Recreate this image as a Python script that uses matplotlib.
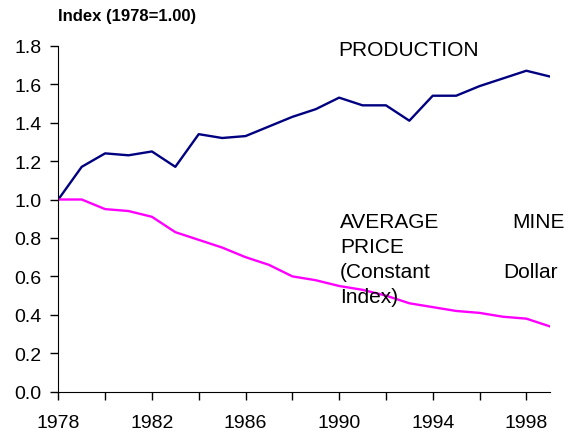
import matplotlib
matplotlib.use("Agg")
import matplotlib.pyplot as plt
from matplotlib.ticker import MultipleLocator, FuncFormatter

plt.rcParams["font.family"] = ["Liberation Sans", "DejaVu Sans"]

years = list(range(1978, 2000))
production = [1.00, 1.17, 1.24, 1.23, 1.25, 1.17, 1.34, 1.32, 1.33, 1.38, 1.43,
              1.47, 1.53, 1.49, 1.49, 1.41, 1.54, 1.54, 1.59, 1.63, 1.67, 1.64]
price = [1.00, 1.00, 0.95, 0.94, 0.91, 0.83, 0.79, 0.75, 0.70, 0.66, 0.60,
         0.58, 0.55, 0.53, 0.50, 0.46, 0.44, 0.42, 0.41, 0.39, 0.38, 0.34]

fig = plt.figure(figsize=(5.83, 4.39), dpi=100)
ax = fig.add_axes([0.1, 0.1055, 0.843, 0.788])

ax.plot(years, production, color="#000080", lw=1.7)
ax.plot(years, price, color="#FF00FF", lw=1.7)

ax.set_xlim(1978, 1999)
ax.set_ylim(0, 1.8)
ax.yaxis.set_major_locator(MultipleLocator(0.2))
ax.yaxis.set_major_formatter(FuncFormatter(lambda v, p: f"{v:.1f}"))
ax.xaxis.set_major_locator(MultipleLocator(2))
ax.xaxis.set_major_formatter(
    FuncFormatter(lambda v, p: f"{int(round(v))}" if int(round(v) - 1978) % 4 == 0 else ""))

for s in ["top", "right"]:
    ax.spines[s].set_visible(False)
ax.tick_params(axis="both", direction="out", length=6, width=1, labelsize=14)
ax.tick_params(axis="y", pad=6)
ax.tick_params(axis="x", pad=10)

fig.text(0.1, 0.962, "Index (1978=1.00)", fontsize=12, fontweight="bold",
         va="center", ha="left")

ax.text(1989.95, 1.783, "PRODUCTION", fontsize=15, va="center", ha="left")

# justified label on the right, placed word by word
ax.text(1990.04, 0.883, "AVERAGE", fontsize=15, va="center", ha="left")
ax.text(1997.4, 0.883, "MINE", fontsize=15, va="center", ha="left", clip_on=False)
ax.text(1990.04, 0.753, "PRICE", fontsize=15, va="center", ha="left")
ax.text(1990.04, 0.623, "(Constant", fontsize=15, va="center", ha="left")
ax.text(1997.0, 0.623, "Dollar", fontsize=15, va="center", ha="left", clip_on=False)
ax.text(1990.04, 0.493, "Index)", fontsize=15, va="center", ha="left")

fig.savefig("out.png", dpi=100)
